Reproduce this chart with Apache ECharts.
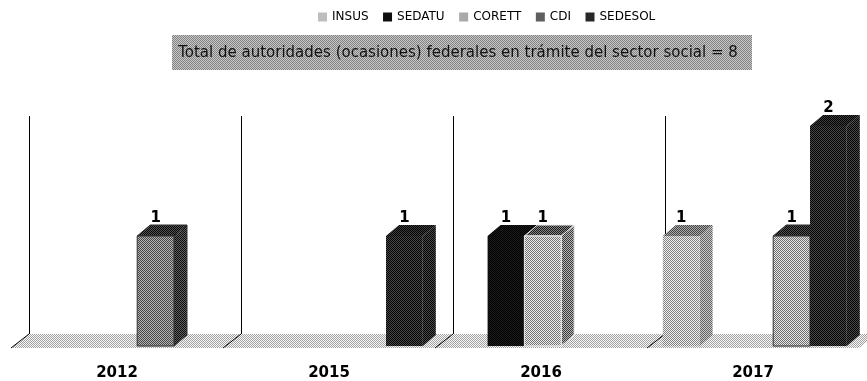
<!DOCTYPE html>
<html><head><meta charset="utf-8">
<style>html,body{margin:0;padding:0;background:#fff}#c{width:867px;height:381px}</style>
<script src="https://cdn.jsdelivr.net/npm/echarts@6/dist/echarts.min.js"></script>
</head><body><div id="c"></div>
<script>
const categories = ['2012','2015','2016','2017'];
const seriesNames = ['INSUS','SEDATU','CORETT','CDI','SEDESOL'];
const insus   = [null,null,null,1];
const sedatu  = [null,null,1,null];
const corett  = [null,null,1,null];
const cdi     = [1,null,null,1];
const sedesol = [null,1,null,2];
const titleText = 'Total de autoridades (ocasiones) federales en trámite del sector social = 8';

// fine 1px checker texture around a mean grey, like the scanned halftone of the source
function dither(mean,spread){
  const c=document.createElement('canvas');c.width=c.height=2;
  const x=c.getContext('2d');
  const lo=Math.max(0,mean-spread),hi=Math.min(255,mean+spread);
  for(let j=0;j<2;j++)for(let i=0;i<2;i++){
    const v=(i+j)%2?hi:lo;
    x.fillStyle='rgb('+v+','+v+','+v+')';x.fillRect(i,j,1,1);
  }
  return {image:c,repeat:'repeat'};
}
const looks={
  INSUS:  {front:dither(185,55),side:dither(150,50),top:dither(120,50),legend:dither(190,50),edge:null},
  SEDATU: {front:dither(14,14),side:dither(20,20),top:dither(14,14),legend:dither(14,14),edge:null},
  CORETT: {front:dither(175,60),side:dither(120,60),top:dither(80,55),legend:dither(170,50),edge:'#eeeeee'},
  CDI:    {front:dither(125,55),side:dither(55,45),top:dither(45,40),legend:dither(95,50),edge:'#333333'},
  SEDESOL:{front:dither(38,36),side:dither(38,36),top:dither(30,30),legend:dither(40,35),edge:null}
};
const cdi2017Front=dither(170,60);
const floorFill=dither(205,45);
const bandFill=dither(165,35);
const DX=13,DY=11,SHIFT=1.8;

function barRender(name){
  return function(params,api){
    const i=api.value(0),v=api.value(1);
    const band=api.size([1,0])[0];
    const base=api.coord([i,0]);
    const top=api.coord([i,v]);
    const slots=seriesNames.length;
    const inner=band*0.868;
    const w=inner/slots;
    const x0=base[0]-inner/2+w*seriesNames.indexOf(name)+SHIFT;
    const x1=x0+w,y0=top[1],y1=base[1];
    const L=looks[name];
    const front=(name==='CDI'&&categories[i]==='2017')?cdi2017Front:L.front;
    const edge=L.edge?{stroke:L.edge,lineWidth:1}:{};
    return {type:'group',children:[
      {type:'polygon',shape:{points:[[x1,y0],[x1+DX,y0-DY],[x1+DX,y1-DY],[x1,y1]]},style:Object.assign({fill:L.side},edge)},
      {type:'polygon',shape:{points:[[x0,y0],[x0+DX,y0-DY],[x1+DX,y0-DY],[x1,y0]]},style:Object.assign({fill:L.top},edge)},
      {type:'rect',shape:{x:x0,y:y0,width:w,height:y1-y0},style:Object.assign({fill:front},edge)},
      {type:'text',z2:5,style:{text:String(v),x:x0+w/2,y:y0-18,align:'center',verticalAlign:'middle',
        font:'bold 15px "DejaVu Sans"',fill:'#000'}}
    ]};
  };
}
function frameRender(params,api){
  const i=api.value(0);
  const band=api.size([1,0])[0];
  const c=api.coord([i,0]);
  const xl=Math.round(c[0]-band/2), yf=c[1]+2, top=api.coord([i,2.09])[1];
  return {type:'group',children:[
    {type:'polygon',shape:{points:[[xl,yf],[xl+18,yf-14],[xl+band+18,yf-14],[xl+band,yf]]},style:{fill:floorFill}},
    {type:'line',shape:{x1:xl,y1:yf,x2:xl+18,y2:yf-14},style:{stroke:'#000',lineWidth:1}},
    {type:'line',shape:{x1:xl+18.5,y1:yf-14,x2:xl+18.5,y2:top},style:{stroke:'#000',lineWidth:1}}
  ]};
}
const toPairs=a=>a.map((v,i)=>[i,v]).filter(p=>p[1]!==null);
const valueMap={INSUS:insus,SEDATU:sedatu,CORETT:corett,CDI:cdi,SEDESOL:sedesol};

const chart=echarts.init(document.getElementById('c'),null,{renderer:'canvas'});
chart.setOption({
  animation:false,
  backgroundColor:'#fff',
  grid:{left:11,right:8,top:126,bottom:35},
  xAxis:{type:'category',data:categories,axisLine:{show:false},axisTick:{show:false},
    axisLabel:{color:'#000',fontFamily:'"DejaVu Sans"',fontWeight:'bold',fontSize:15,margin:20}},
  yAxis:{type:'value',min:0,max:2,interval:1,show:false,splitLine:{show:false}},
  legend:{data:seriesNames,left:318,top:11,padding:0,itemWidth:9,itemHeight:9,itemGap:14.5,icon:'rect',
    textStyle:{color:'#000',fontFamily:'"DejaVu Sans"',fontSize:12}},
  title:{text:titleText,left:458,top:46,textAlign:'center',padding:0,
    textStyle:{fontFamily:'"DejaVu Sans"',fontSize:15,fontWeight:'normal',color:'#111'}},
  graphic:[{type:'rect',z:0,shape:{x:172,y:35,width:580,height:35},style:{fill:bandFill}}],
  series:[
    {type:'custom',name:'frame',silent:true,z:1,data:categories.map((c,i)=>[i,0]),renderItem:frameRender,clip:false},
    ...seriesNames.map(n=>({type:'custom',name:n,z:2,clip:false,
      itemStyle:{color:looks[n].legend},
      encode:{x:0,y:1},
      data:toPairs(valueMap[n]),renderItem:barRender(n)}))
  ]
});
</script></body></html>
